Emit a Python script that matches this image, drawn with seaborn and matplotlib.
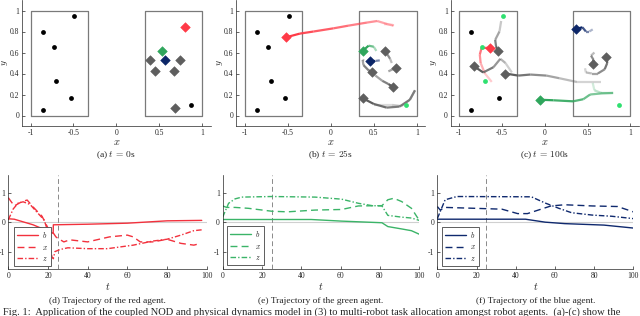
import matplotlib
matplotlib.use("Agg")
import matplotlib.pyplot as plt
import seaborn as sns

# ---- task points (black = open, green = served) ----
task_x = [-0.49, -0.86, -0.73, -0.70, -0.53, -0.86, 0.87]
task_y = [0.945, 0.80, 0.65, 0.33, 0.17, 0.055, 0.10]
served_a = [0, 0, 0, 0, 0, 0, 0]
served_b = [0, 0, 0, 0, 0, 0, 1]
served_c = [1, 0, 1, 1, 0, 0, 1]

region_x = [(-1.0, -0.33), (0.33, 1.0)]
region_y = (0.0, 1.0)

# ---- agent positions: red, green, blue, then five gray ----
agent_kind = ["red", "green", "blue", "gray", "gray", "gray", "gray", "gray"]
pos_a_x = [0.80, 0.53, 0.57, 0.39, 0.745, 0.456, 0.67, 0.68]
pos_a_y = [0.84, 0.615, 0.525, 0.525, 0.525, 0.42, 0.42, 0.07]
pos_b_x = [-0.52, 0.37, 0.46, 0.485, 0.63, 0.72, 0.76, 0.37]
pos_b_y = [0.745, 0.615, 0.52, 0.41, 0.615, 0.275, 0.45, 0.165]
pos_c_x = [-0.645, -0.055, 0.365, -0.83, -0.55, -0.46, 0.56, 0.72]
pos_c_y = [0.64, 0.15, 0.825, 0.47, 0.61, 0.40, 0.49, 0.56]

# ---- trails (oldest point first) ----
trails_b = [
    ("red", [0.62, 0.72, 0.73, 0.66, 0.54, 0.42, 0.2, 0.03, -0.2, -0.36, -0.52],
            [0.87, 0.865, 0.855, 0.87, 0.90, 0.885, 0.855, 0.83, 0.80, 0.78, 0.745]),
    ("green", [0.53, 0.50, 0.44, 0.37], [0.615, 0.655, 0.665, 0.615]),
    ("blue", [0.57, 0.52, 0.46], [0.525, 0.52, 0.52]),
    ("gray", [0.39, 0.37, 0.38, 0.44, 0.485], [0.525, 0.53, 0.48, 0.43, 0.41]),
    ("gray", [0.71, 0.69, 0.66, 0.63], [0.50, 0.54, 0.58, 0.615]),
    ("gray", [0.456, 0.52, 0.60, 0.67, 0.72], [0.42, 0.38, 0.33, 0.30, 0.275]),
    ("gray", [0.67, 0.72, 0.76], [0.42, 0.44, 0.45]),
    ("gray", [0.50, 0.72, 0.82, 0.92, 0.98, 0.92, 0.80, 0.65, 0.50, 0.37],
             [0.10, 0.10, 0.09, 0.15, 0.24, 0.15, 0.085, 0.075, 0.11, 0.165]),
]
trails_c = [
    ("red", [-0.62, -0.70, -0.75, -0.76, -0.74, -0.68, -0.645],
            [0.32, 0.40, 0.50, 0.58, 0.64, 0.645, 0.64]),
    ("green", [0.56, 0.58, 0.66, 0.80, 0.66, 0.53, 0.45, 0.33, 0.10, -0.055],
              [0.31, 0.24, 0.215, 0.215, 0.21, 0.20, 0.155, 0.135, 0.145, 0.15]),
    ("blue", [0.56, 0.52, 0.48, 0.44, 0.365], [0.82, 0.80, 0.80, 0.84, 0.825]),
    ("gray", [-0.385, -0.46, -0.52, -0.60, -0.72, -0.83], [0.41, 0.50, 0.54, 0.46, 0.41, 0.47]),
    ("gray", [-0.51, -0.53, -0.58, -0.57, -0.55], [0.90, 0.80, 0.72, 0.66, 0.61]),
    ("gray", [0.66, 0.37, 0.17, 0.02, -0.17, -0.31, -0.46], [0.32, 0.32, 0.355, 0.38, 0.39, 0.38, 0.40]),
    ("gray", [0.58, 0.54, 0.57, 0.56], [0.60, 0.57, 0.53, 0.49]),
    ("gray", [0.47, 0.48, 0.55, 0.62, 0.70, 0.73, 0.72], [0.45, 0.41, 0.40, 0.40, 0.44, 0.50, 0.56]),
]

# ---- opinion / state trajectories ----
red_b_t = [0, 3, 12.5, 22, 22.6, 22.7, 40, 60, 80, 97.5]
red_b = [0.115, 0.10, -0.09, -0.36, -0.38, -0.09, -0.07, -0.035, 0.045, 0.06]
red_x_t = [0, 3, 7, 9.5, 13, 17, 20, 22, 24, 25, 28, 31, 40, 51, 60, 63, 66.5, 73, 80, 87, 93.5, 97]
red_x = [0.83, 0.55, 0.70, 0.75, 0.48, 0.20, -0.2, -0.3, -0.5, -0.55, -0.67, -0.6, -0.67,
         -0.5, -0.44, -0.5, -0.67, -0.67, -0.58, -0.72, -0.78, -0.72]
red_z_t = [0, 2.5, 5, 7.5, 11, 14, 18, 20, 21, 22, 22.7, 23.5, 26, 30, 40, 50, 63, 73, 80, 87, 93.5, 97.5]
red_z = [0.08, 0.45, 0.65, 0.69, 0.60, 0.37, 0.08, -0.32, -0.84, -1.18, -1.24, -1.0, -0.93,
         -0.87, -0.9, -0.9, -0.78, -0.64, -0.58, -0.44, -0.29, -0.26]

green_b_t = [0, 45, 60.5, 81, 84, 91, 96, 100]
green_b = [0.09, 0.09, 0.035, -0.02, -0.15, -0.23, -0.29, -0.41]
green_x_t = [0, 2, 6.3, 13, 25, 33, 47, 60.5, 69, 81, 84, 87, 91, 96, 100]
green_x = [0.55, 0.5, 0.5, 0.47, 0.37, 0.35, 0.41, 0.43, 0.55, 0.56, 0.76, 0.81, 0.7, 0.47, 0.06]
green_z_t = [0, 3, 6.3, 9.7, 25, 47, 60.5, 69, 76, 81, 84, 91, 96, 100]
green_z = [0.17, 0.64, 0.79, 0.85, 0.87, 0.85, 0.78, 0.64, 0.56, 0.55, 0.23, 0.17, 0.14, 0.06]

blue_b_t = [0, 45, 50, 55, 65, 85, 100]
blue_b = [0.1, 0.1, 0.05, 0.0, -0.05, -0.1, -0.2]
blue_x_t = [0, 1.5, 4, 19, 33, 41, 46, 58, 65, 79, 92, 100]
blue_x = [0.53, 0.41, 0.5, 0.47, 0.44, 0.29, 0.29, 0.55, 0.59, 0.55, 0.53, 0.35]
blue_z_t = [0, 4, 10, 48, 55, 62, 68.5, 79, 89, 100]
blue_z = [0.12, 0.76, 0.87, 0.86, 0.65, 0.47, 0.32, 0.24, 0.2, 0.12]

MARK = {"red": "#ff3a47", "green": "#2fa65c", "blue": "#0c2668", "gray": "#5e5e5e"}
LINE = {"red": "#f2313d", "green": "#3bb468", "blue": "#0f296e"}
DONE = "#2fe070"

sns.set_style("ticks")
plt.rcParams["font.family"] = ["Liberation Serif", "DejaVu Serif"]
plt.rcParams["mathtext.fontset"] = "cm"

fig = plt.figure(figsize=(6.4, 3.16), dpi=100)
W, H = 640.0, 316.0


def style_axes(ax):
    sns.despine(ax=ax)
    for s in ("left", "bottom"):
        ax.spines[s].set_linewidth(0.5)
        ax.spines[s].set_color("#262626")
    ax.tick_params(direction="in", length=2, width=0.5, labelsize=5.5, pad=2, colors="#262626")


def draw_arena(ax, px, py, served, trails):
    for x0, x1 in region_x:
        ax.plot([x0, x1, x1, x0, x0], [region_y[0], region_y[0], region_y[1], region_y[1], region_y[0]],
                color="#7a7a7a", lw=0.9, zorder=1)
    # fading trails: older segments are more transparent
    for kind, xs, ys in trails:
        n = len(xs)
        for i in range(n - 1):
            a = 0.12 + 0.88 * (i + 1) / (n - 1)
            ax.plot(xs[i:i + 2], ys[i:i + 2], color=MARK[kind], alpha=a, lw=1.6,
                    solid_capstyle="butt", zorder=2)
    open_x = [x for x, s in zip(task_x, served) if not s]
    open_y = [y for y, s in zip(task_y, served) if not s]
    done_x = [x for x, s in zip(task_x, served) if s]
    done_y = [y for y, s in zip(task_y, served) if s]
    sns.scatterplot(x=open_x, y=open_y, color="black", s=12, linewidth=0, ax=ax, zorder=3)
    if done_x:
        sns.scatterplot(x=done_x, y=done_y, color=DONE, s=12, linewidth=0, ax=ax, zorder=3)
    for i in [3, 4, 5, 6, 7, 0, 1, 2]:
        sns.scatterplot(x=[px[i]], y=[py[i]], color=MARK[agent_kind[i]], marker="D", s=24,
                        edgecolor=MARK[agent_kind[i]], linewidth=0.4, ax=ax, zorder=4)
    ax.set_xlim(-1.1, 1.1)
    ax.set_ylim(-0.1, 1.1)
    ax.set_xticks([-1, -0.5, 0, 0.5, 1])
    ax.set_xticklabels(["-1", "-0.5", "0", "0.5", "1"])
    ax.set_yticks([0, 0.2, 0.4, 0.6, 0.8, 1])
    ax.set_yticklabels(["0", "0.2", "0.4", "0.6", "0.8", "1"])
    ax.set_xlabel("$x$", fontsize=7.5, labelpad=1)
    ax.set_ylabel("$y$", fontsize=7, va="center")
    ax.yaxis.set_label_coords(-0.088, 0.5)
    style_axes(ax)


top_spans = [(22, 210.5), (236.3, 425.3), (450.7, 638.9)]
panels = [(pos_a_x, pos_a_y, served_a, []), (pos_b_x, pos_b_y, served_b, trails_b),
          (pos_c_x, pos_c_y, served_c, trails_c)]
top_caps = ["(a) $t\\,=\\,0$s", "(b) $t\\,=\\,25$s", "(c) $t\\,=\\,100$s"]
for (l, r), (px, py, sv, tr), cap in zip(top_spans, panels, top_caps):
    ax = fig.add_axes([l / W, 1 - 126 / H, (r - l) / W, 126 / H])
    draw_arena(ax, px, py, sv, tr)
    fig.text((l + r) / 2 / W, 1 - 155 / H, cap, ha="center", va="center", fontsize=6.8)

bot_spans = [(8.3, 206.7), (222.7, 419.3), (437.3, 633.3)]
series = [
    ("red", (red_b_t, red_b), (red_x_t, red_x), (red_z_t, red_z)),
    ("green", (green_b_t, green_b), (green_x_t, green_x), (green_z_t, green_z)),
    ("blue", (blue_b_t, blue_b), (blue_x_t, blue_x), (blue_z_t, blue_z)),
]
letters = ["d", "e", "f"]
leg_anchor = [(0.029, 0.035), (0.02, 0.045), (0.022, 0.038)]
for (l, r), (kind, sb, sx, sz), anc, let in zip(bot_spans, series, leg_anchor, letters):
    ax = fig.add_axes([l / W, 1 - 269.3 / H, (r - l) / W, 94.3 / H])
    ax.axhline(0, color="#d0d0d0", lw=0.8, zorder=0)
    ax.axvline(25, color="#8a8a8a", lw=0.7, ls=(0, (5, 3)), zorder=0)
    c = LINE[kind]
    sns.lineplot(x=sb[0], y=sb[1], color=c, lw=1.0, ax=ax, label="$b$", sort=False, estimator=None)
    sns.lineplot(x=sx[0], y=sx[1], color=c, lw=1.0, ls=(0, (5, 3)), ax=ax, label="$x$",
                 sort=False, estimator=None)
    sns.lineplot(x=sz[0], y=sz[1], color=c, lw=1.0, ls=(0, (4, 1.5, 1, 1.5)), ax=ax, label="$z$",
                 sort=False, estimator=None)
    ax.set_xlim(0, 100)
    ax.set_ylim(-1.6, 1.6)
    ax.set_xticks([0, 20, 40, 60, 80, 100])
    ax.set_yticks([-1, 0, 1])
    ax.set_yticklabels(["-1", "0", "1"])
    ax.set_xlabel("$t$", fontsize=7.5, labelpad=1)
    ax.set_ylabel("")
    style_axes(ax)
    leg = ax.legend(loc="lower left", bbox_to_anchor=anc, borderaxespad=0, fontsize=5.5,
                    handlelength=2.8, handletextpad=0.5, labelspacing=0.45, borderpad=0.4,
                    fancybox=False, framealpha=1, edgecolor="#444444")
    leg.get_frame().set_linewidth(0.6)
    fig.text((l + r) / 2 / W, 1 - 301 / H, "(%s) Trajectory of the %s agent." % (let, kind),
             ha="center", va="center", fontsize=6.8)

fig.text(3 / W, 1 - 307.5 / H,
         "Fig. 1:  Application of the coupled NOD and physical dynamics model in (3) to multi-robot task "
         "allocation amongst robot agents.  (a)-(c) show the",
         ha="left", va="top", fontsize=7.6)

fig.savefig("out.png", dpi=100)
